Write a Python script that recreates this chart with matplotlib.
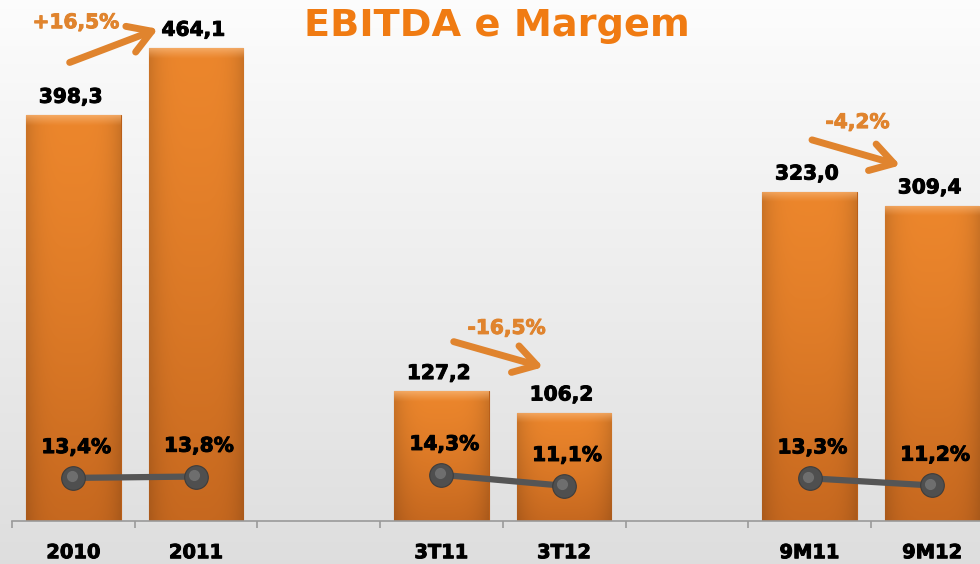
import numpy as np
import matplotlib
matplotlib.use("Agg")
import matplotlib.pyplot as plt
import matplotlib.patheffects as pe
from matplotlib.colors import to_rgb

categories = ["2010", "2011", "3T11", "3T12", "9M11", "9M12"]
ebitda = [398.3, 464.1, 127.2, 106.2, 323.0, 309.4]
margem = [13.4, 13.8, 14.3, 11.1, 13.3, 11.2]
variacao = ["+16,5%", "-16,5%", "-4,2%"]

def br(v, pct=False):
    s = f"{v:.1f}".replace(".", ",")
    return s + "%" if pct else s

# slot positions: pairs separated by an empty slot
pos = np.array([i + i // 2 for i in range(len(categories))], dtype=float)

heavy = [pe.withStroke(linewidth=0.7, foreground="black")]

fig = plt.figure(figsize=(9.8, 5.64), dpi=100)

# background gradient
bg = fig.add_axes([0, 0, 1, 1], zorder=-10)
g = np.linspace(0.99, 0.87, 256)[:, None]
bg.imshow(np.dstack([g, g, g]), aspect="auto", extent=[0, 1, 0, 1])
bg.axis("off")

ax = fig.add_axes([12 / 980, 43 / 564, 981.6 / 980, 509.5 / 564])
ax.patch.set_alpha(0)

bw = 0.77
bars = ax.bar(pos, ebitda, width=bw, color="#e67e22", edgecolor="#b95e18",
              linewidth=0.8, zorder=2)

# shaded fill for each bar
top_c = np.array(to_rgb("#ec862c"))
bot_c = np.array(to_rgb("#c6681f"))
bev_c = np.array(to_rgb("#f8b474"))
for b, h in zip(bars, ebitda):
    ny = max(int(h), 20)
    nx = 60
    t = (np.linspace(0, 1, ny) ** 1.3)[:, None, None]
    img = top_c * (1 - t) + bot_c * t
    xx = np.linspace(-1, 1, nx)[None, :, None]
    shade = 1 - 0.14 * np.abs(xx) ** 4
    img = img * shade
    img = np.broadcast_to(img, (ny, nx, 3)).copy()
    nb = 10
    for r in range(nb):
        w = (1 - r / nb) ** 1.2
        img[r] = img[r] * (1 - 0.75 * w) + bev_c * 0.75 * w
    x0 = b.get_x()
    im = ax.imshow(img, extent=[x0, x0 + bw, 0, h], aspect="auto",
                   zorder=2.1, interpolation="bilinear")
    im.set_clip_path(b)

ax.set_xlim(-0.5, 7.5)
ax.set_ylim(0, 500)

for p, v in zip(pos, ebitda):
    ax.annotate(br(v), (p, v), xytext=(-2, 6), textcoords="offset points",
                ha="center", va="bottom", fontsize=14.5, fontweight="bold",
                color="black", zorder=5, path_effects=heavy)

for s in ["top", "left", "right"]:
    ax.spines[s].set_visible(False)
ax.spines["bottom"].set_color("#9a9a9a")
ax.spines["bottom"].set_linewidth(1.2)
ax.set_yticks([])
ax.set_xticks(np.arange(-0.5, 8.0, 1.0))
ax.set_xticklabels([])
ax.tick_params(axis="x", which="major", length=5, width=1.2, color="#9a9a9a",
               direction="out")
ax.set_xticks(pos, minor=True)
ax.set_xticklabels(categories, minor=True, fontsize=14, fontweight="bold")
ax.tick_params(axis="x", which="minor", length=0, pad=16)
for lbl in ax.get_xticklabels(minor=True):
    lbl.set_path_effects(heavy)

# margin line
ax2 = ax.twinx()
ax2.set_ylim(0.87, 148.97)
ax2.axis("off")
ax2.set_zorder(ax.get_zorder() + 1)
for k in range(0, len(pos), 2):
    ax2.plot(pos[k:k + 2], margem[k:k + 2], color="#555555", lw=4.5,
             solid_capstyle="butt", zorder=3)
ax2.plot(pos, margem, ls="none", marker="o", ms=17, mfc="#4f4f4f",
         mec="#3c3c3c", mew=0.8, zorder=4)
ax2.plot(pos - 0.015, np.array(margem) + 0.5, ls="none", marker="o", ms=8,
         mfc="#7c7c7c", mec="none", alpha=0.7, zorder=4.5)
for p, m in zip(pos, margem):
    ax2.annotate(br(m, True), (p, m), xytext=(2, 15), textcoords="offset points",
                 ha="center", va="bottom", fontsize=14.5, fontweight="bold",
                 color="black", zorder=6, path_effects=heavy)

# growth arrows
arrow_tail = [(-0.03, 450), (3.10, 176), (6.02, 374)]
arrow_head = [(0.69, 483), (3.83, 151), (6.74, 349)]
label_xy = [(0.02, 489), (3.53, 189), (6.39, 391)]
acol = "#e0842e"
for txt, t0, t1, lxy in zip(variacao, arrow_tail, arrow_head, label_xy):
    ax.annotate("", xy=t1, xytext=t0,
                arrowprops=dict(arrowstyle="->,head_length=0.9,head_width=0.55",
                                lw=5, color=acol, mutation_scale=18,
                                shrinkA=0, shrinkB=0),
                zorder=6, annotation_clip=False)
    ax.text(lxy[0], lxy[1], txt, ha="center", va="center", fontsize=14.5,
            fontweight="bold", color=acol, zorder=6,
            path_effects=[pe.withStroke(linewidth=0.7, foreground=acol)])

fig.text(497 / 980, 1 - 26 / 564, "EBITDA e Margem", ha="center", va="center",
         fontsize=27.5, fontweight="bold", color="#f07b12")

fig.savefig("out.png", dpi=100)
